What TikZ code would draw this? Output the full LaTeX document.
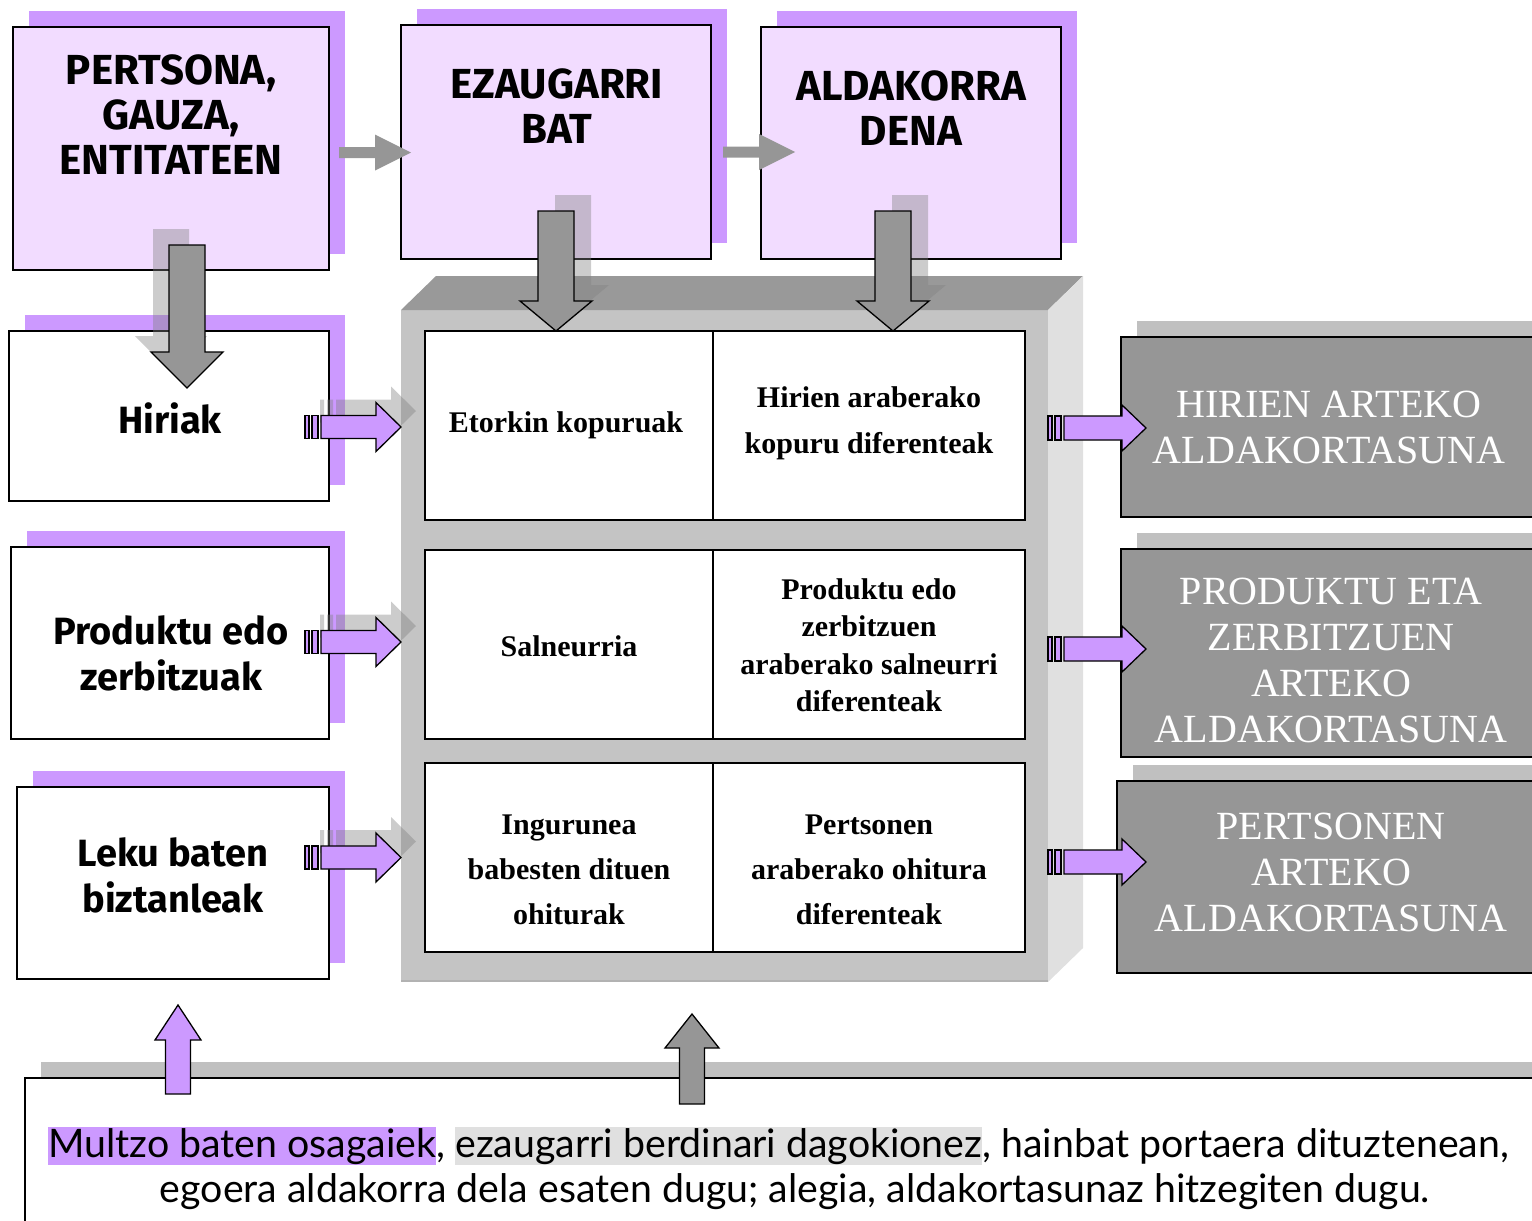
\documentclass[tikz,border=0pt]{standalone}
\usepackage{fontspec}
\setmainfont{Liberation Serif}
\newfontfamily\decofont{Fira Sans}
\newfontfamily\bodyfont{Lato}
\usetikzlibrary{calc}
\pgfdeclarelayer{bg}
\pgfsetlayers{bg,main}
\definecolor{lav}{HTML}{F2DCFF}
\definecolor{purp}{HTML}{CC99FF}
\definecolor{dgray}{HTML}{969696}
\definecolor{topg}{HTML}{999999}
\definecolor{frontg}{HTML}{C4C4C4}
\definecolor{sideg}{HTML}{E0E0E0}
\definecolor{shad}{HTML}{C0C0C0}
\definecolor{hlg}{HTML}{E0E0E0}
\setlength{\fboxsep}{0pt}
\newcommand{\hlstrut}{\rule[-8pt]{0pt}{38pt}}

\tikzset{
  box/.style={draw=black, line width=1.3pt, inner sep=0pt, outer sep=0pt, anchor=north west},
  titlebox/.style={box, fill=lav},
  whitebox/.style={box, fill=white},
  resbox/.style={box, fill=dgray},
  cellbox/.style={box, fill=white, line width=1.5pt},
  facebox/.style={fill=frontg, inner sep=0pt, outer sep=0pt, anchor=north west},
  titletext/.style={font=\decofont\bfseries\fontsize{42}{45}\selectfont, align=center},
  sidetext/.style={font=\decofont\bfseries\fontsize{38}{46}\selectfont, align=center},
  celltext/.style={font=\bfseries\fontsize{30}{46}\selectfont, align=center},
  restext/.style={font=\fontsize{40}{46}\selectfont, text=white, align=center},
  bodytext/.style={font=\bodyfont\fontsize{39.3}{46}\selectfont, inner sep=0pt},
  garrow/.style={fill=dgray},
  darrow/.style={fill=dgray, draw=black, line width=1.3pt, line join=miter},
  parrow/.style={fill=purp, draw=black, line width=1.3pt, line join=miter},
  ashadow/.style={fill=black!50, fill opacity=0.4},
}

% box node by corners
\newcommand{\bx}[6]{\node[#2, minimum width={#5-#3}, minimum height={#6-#4}] (#1) at (#3,#4) {};}
% block arrow pointing right: tail, tip, shaft half, head half, head length, style
\newcommand{\arrR}[6]{\path[#6] let \p1=(#1), \p2=(#2) in
  (\x1,\y2+#3pt) -- (\x2-#5pt,\y2+#3pt) -- (\x2-#5pt,\y2+#4pt) -- (\x2,\y2)
  -- (\x2-#5pt,\y2-#4pt) -- (\x2-#5pt,\y2-#3pt) -- (\x1,\y2-#3pt) -- cycle;}
% block arrow pointing down
\newcommand{\arrD}[6]{\path[#6] let \p1=(#1), \p2=(#2) in
  (\x2-#3pt,\y1) -- (\x2-#3pt,\y2+#5pt) -- (\x2-#4pt,\y2+#5pt) -- (\x2,\y2)
  -- (\x2+#4pt,\y2+#5pt) -- (\x2+#3pt,\y2+#5pt) -- (\x2+#3pt,\y1) -- cycle;}
% block arrow pointing up
\newcommand{\arrU}[6]{\path[#6] let \p1=(#1), \p2=(#2) in
  (\x2-#3pt,\y1) -- (\x2-#3pt,\y2-#5pt) -- (\x2-#4pt,\y2-#5pt) -- (\x2,\y2)
  -- (\x2+#4pt,\y2-#5pt) -- (\x2+#3pt,\y2-#5pt) -- (\x2+#3pt,\y1) -- cycle;}
% striped tail in front of a shaft start
\newcommand{\tails}[3]{\path[#3] let \p1=(#1) in
  (\x1-16pt,\y1-#2pt) rectangle (\x1-12pt,\y1+#2pt)
  (\x1-9pt,\y1-#2pt) rectangle (\x1-3pt,\y1+#2pt);}

\begin{document}
\begin{tikzpicture}[x=1pt,y=-1pt]
\useasboundingbox (0,0) rectangle (1532,1221);
\clip (0,0) rectangle (1532,1221);

% ---------- top title boxes ----------
\bx{pers}{titlebox}{13}{27}{329}{270}
\bx{ezau}{titlebox}{401}{25}{711}{259}
\bx{ald}{titlebox}{761}{27}{1061}{259}
% ---------- left boxes ----------
\bx{hiri}{whitebox}{9}{331}{329}{501}
\bx{prod}{whitebox}{11}{547}{329}{739}
\bx{leku}{whitebox}{17}{787}{329}{979}

% ---------- 3D frame ----------
\bx{tbl}{facebox}{401}{310}{1048}{982}
\fill[topg] (tbl.north west) -- ++(35,-34) -- ($(tbl.north east)+(35,-34)$) -- (tbl.north east) -- cycle;
\fill[sideg] (tbl.north east) -- ++(35,-34) -- ($(tbl.south east)+(35,-34)$) -- (tbl.south east) -- cycle;
\draw[line width=2.5pt, draw=black!30] ($(tbl.south west)+(0,-1.25)$) -- ($(tbl.south east)+(0,-1.25)$);

% ---------- cells ----------
\bx{c11}{cellbox}{425}{331}{713}{520}
\bx{c12}{cellbox}{713}{331}{1025}{520}
\bx{c21}{cellbox}{425}{550}{713}{739}
\bx{c22}{cellbox}{713}{550}{1025}{739}
\bx{c31}{cellbox}{425}{763}{713}{952}
\bx{c32}{cellbox}{713}{763}{1025}{952}

\node[celltext] (t11) at (566,425) {Etorkin kopuruak};
\node[celltext] (t12) at (869,423) {Hirien araberako\\kopuru diferenteak};
\node[celltext] (t21) at (569,646) {Salneurria};
\node[celltext, font=\bfseries\fontsize{30}{37.5}\selectfont] (t22) at (869,645) {Produktu edo\\zerbitzuen\\araberako salneurri\\diferenteak};
\node[celltext, font=\bfseries\fontsize{30}{45}\selectfont] (t31) at (569,870) {Ingurunea\\babesten dituen\\ohiturak};
\node[celltext, font=\bfseries\fontsize{30}{45}\selectfont] (t32) at (869,870) {Pertsonen\\araberako ohitura\\diferenteak};

% ---------- result boxes ----------
\bx{r1}{resbox}{1121}{337}{1540}{517}
\bx{r2}{resbox}{1121}{549}{1540}{757}
\bx{r3}{resbox}{1117}{781}{1540}{973}
\node[restext] (rt1) at (1329,427) {HIRIEN ARTEKO\\ALDAKORTASUNA};
\node[restext] (rt2) at (1331,660) {PRODUKTU ETA\\ZERBITZUEN\\ARTEKO\\ALDAKORTASUNA};
\node[restext] (rt3) at (1331,872) {PERTSONEN\\ARTEKO\\ALDAKORTASUNA};

% ---------- bottom box ----------
\bx{bot}{whitebox}{25}{1078}{1540}{1240}

% ---------- shadows (background) ----------
\begin{pgfonlayer}{bg}
  \foreach \n in {pers,ezau,ald,hiri,prod,leku}
    \fill[purp] ([shift={(16,-16)}]\n.south west) rectangle ([shift={(16,-16)}]\n.north east);
  \foreach \n in {r1,r2,r3,bot}
    \fill[shad] ([shift={(16,-16)}]\n.south west) rectangle ([shift={(16,-16)}]\n.north east);
\end{pgfonlayer}

% ---------- texts in title / side boxes ----------
\node[titletext] (pt) at (171,115) {PERTSONA,\\GAUZA,\\ENTITATEEN};
\node[titletext] (et) at (557,106) {EZAUGARRI\\BAT};
\node[titletext] (alt) at (911,108) {ALDAKORRA\\DENA};
\node[sidetext] (ht) at (170,418) {Hiriak};
\node[sidetext] (prt) at (171,653) {Produktu edo\\zerbitzuak};
\node[sidetext] (lt) at (173,875) {Leku baten\\biztanleak};

% ---------- gray horizontal arrows ----------
\coordinate (g1s) at ([shift={(10,4)}]pers.east);
\coordinate (g1e) at ($(ezau.west |- g1s)+(10,0)$);
\arrR{g1s}{g1e}{5.5}{18}{36}{garrow}
\coordinate (g2s) at ([shift={(12,10)}]ezau.east);
\coordinate (g2e) at ($(ald.west |- g2s)+(34,0)$);
\arrR{g2s}{g2e}{5.5}{18}{36}{garrow}

% ---------- down arrows ----------
\coordinate (d1s) at ([shift={(16,-25)}]pers.south);
\coordinate (d1e) at ($(d1s |- hiri.north)+(0,57)$);
\coordinate (d1ss) at ([shift={(-16,-16)}]d1s);
\coordinate (d1es) at ([shift={(-16,-16)}]d1e);
\arrD{d1ss}{d1es}{18}{36}{36}{ashadow}
\arrD{d1s}{d1e}{18}{36}{36}{darrow}

\coordinate (d2s) at ([shift={(0,-48)}]ezau.south);
\coordinate (d2e) at (d2s |- c11.north);
\coordinate (d2ss) at ([shift={(17,-16)}]d2s);
\coordinate (d2es) at ([shift={(17,-16)}]d2e);
\arrD{d2ss}{d2es}{18}{36}{30}{ashadow}
\arrD{d2s}{d2e}{18}{36}{30}{darrow}

\coordinate (d3s) at ([shift={(-18,-48)}]ald.south);
\coordinate (d3e) at (d3s |- c12.north);
\coordinate (d3ss) at ([shift={(17,-16)}]d3s);
\coordinate (d3es) at ([shift={(17,-16)}]d3e);
\arrD{d3ss}{d3es}{18}{36}{30}{ashadow}
\arrD{d3s}{d3e}{18}{36}{30}{darrow}

% ---------- purple arrows into the frame ----------
\coordinate (p1s) at ($(hiri.east |- c11.west)+(-8,1.5)$);
\coordinate (p1e) at (tbl.west |- p1s);
\coordinate (p2s) at ($(prod.east |- c21.west)+(-8,-2.5)$);
\coordinate (p2e) at (tbl.west |- p2s);
\coordinate (p3s) at ($(leku.east |- c31.west)+(-8,0)$);
\coordinate (p3e) at (tbl.west |- p3s);
\foreach \i in {1,2,3}{
  \coordinate (ps) at ([shift={(15,-16)}]p\i s);
  \coordinate (pe) at ([shift={(15,-16)}]p\i e);
  \tails{ps}{11.5}{ashadow}
  \arrR{ps}{pe}{11.5}{24.5}{25}{ashadow}
  \tails{p\i s}{11.5}{parrow}
  \arrR{p\i s}{p\i e}{11.5}{24.5}{25}{parrow}
}

% ---------- purple arrows out of the frame ----------
\coordinate (q1s) at ($(tbl.east |- c12.east)+(16,2.5)$);
\coordinate (q1e) at ($(r1.west |- q1s)+(25,0)$);
\coordinate (q2s) at ($(tbl.east |- c22.east)+(16,4.5)$);
\coordinate (q2e) at ($(r2.west |- q2s)+(25,0)$);
\coordinate (q3s) at ($(tbl.east |- c32.east)+(16,4.5)$);
\coordinate (q3e) at ($(r3.west |- q3s)+(29,0)$);
\foreach \i in {1,2,3}{
  \tails{q\i s}{12}{parrow}
  \arrR{q\i s}{q\i e}{12}{23}{24}{parrow}
}

% ---------- up arrows ----------
\coordinate (u1e) at ([shift={(5,26)}]leku.south);
\coordinate (u1s) at ($(u1e |- bot.north)+(0,16)$);
\arrU{u1s}{u1e}{12.5}{23}{35}{parrow}
\coordinate (u2e) at ([shift={(-32.5,32)}]tbl.south);
\coordinate (u2s) at ($(u2e |- bot.north)+(0,26)$);
\arrU{u2s}{u2e}{12.5}{27}{34}{darrow}

% ---------- bottom text ----------
\node[bodytext, anchor=base west] (l1) at (48,1157)
  {\colorbox{purp}{\hlstrut Multzo baten osagaiek}, \colorbox{hlg}{\hlstrut ezaugarri berdinari dagokionez}, hainbat portaera dituztenean,};
\node[bodytext, anchor=base] (l2) at (795,1202)
  {egoera aldakorra dela esaten dugu; alegia, aldakortasunaz hitzegiten dugu.};
\end{tikzpicture}
\end{document}
